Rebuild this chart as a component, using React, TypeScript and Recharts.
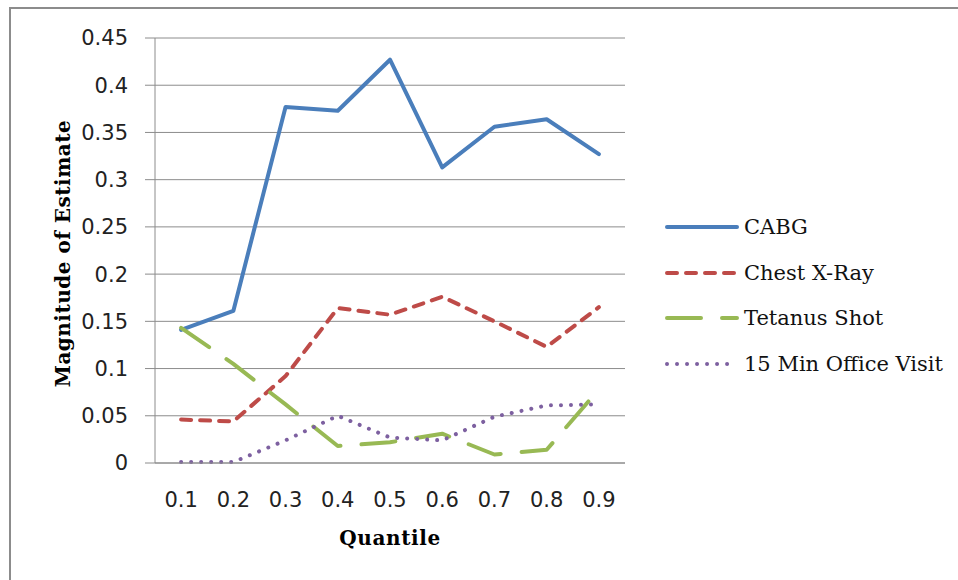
import React from "react";
import { LineChart, Line, XAxis, YAxis, CartesianGrid, Label } from "recharts";

const quantiles = [0.1, 0.2, 0.3, 0.4, 0.5, 0.6, 0.7, 0.8, 0.9];
const cabg = [0.141, 0.161, 0.377, 0.373, 0.427, 0.313, 0.356, 0.364, 0.327];
const chestXRay = [0.046, 0.044, 0.092, 0.164, 0.157, 0.176, 0.15, 0.123, 0.165];
const tetanusShot = [0.143, 0.105, 0.062, 0.018, 0.022, 0.031, 0.009, 0.014, 0.078];
const officeVisit = [0.001, 0.001, 0.024, 0.05, 0.027, 0.024, 0.049, 0.061, 0.062];

const yTicks = [0, 0.05, 0.1, 0.15, 0.2, 0.25, 0.3, 0.35, 0.4, 0.45];
// tick marks sit between the categories, like the original
const bandEdges = [0.05, 0.15, 0.25, 0.35, 0.45, 0.55, 0.65, 0.75, 0.85, 0.95];

const series = [
  { key: "cabg", name: "CABG", color: "#4a7ebb", dash: undefined },
  { key: "chest", name: "Chest X-Ray", color: "#be4b48", dash: "10 9" },
  { key: "tetanus", name: "Tetanus Shot", color: "#98b954", dash: "34 21" },
  { key: "visit", name: "15 Min Office Visit", color: "#7d60a0", dash: "0.01 10" },
];

const data = quantiles.map((q, i) => ({
  q,
  cabg: cabg[i],
  chest: chestXRay[i],
  tetanus: tetanusShot[i],
  visit: officeVisit[i],
}));

const gray = "#8c8c8c";
const tickFont = { fontFamily: "DejaVu Sans", fontSize: 21, fill: "#222" };
const titleFont = { fontFamily: "DejaVu Serif", fontSize: 20, fontWeight: 700, fill: "#000" };

export default function App() {
  return (
    <div style={{ position: "absolute", left: 0, top: 0, width: 958, height: 580, background: "#fff" }}>
      <div
        style={{
          position: "absolute",
          left: 9,
          top: 7,
          width: 960,
          height: 600,
          borderLeft: `2px solid ${gray}`,
          borderTop: `2px solid ${gray}`,
        }}
      />
      <LineChart
        width={958}
        height={580}
        data={data}
        margin={{ top: 38, right: 333, left: 0, bottom: 0 }}
        style={{ position: "absolute", left: 0, top: 0 }}
      >
        <CartesianGrid vertical={false} stroke={gray} />
        <XAxis
          xAxisId={0}
          dataKey="q"
          type="number"
          domain={[0.05, 0.95]}
          ticks={bandEdges}
          tick={false}
          tickSize={10}
          height={1}
          stroke={gray}
          axisLine={{ stroke: gray }}
          tickLine={{ stroke: gray }}
        />
        <XAxis
          xAxisId="labels"
          dataKey="q"
          type="number"
          domain={[0.05, 0.95]}
          ticks={quantiles}
          axisLine={false}
          tickLine={false}
          tickSize={0}
          tickMargin={28}
          height={116}
          tick={tickFont}
          interval={0}
        >
          <Label
            content={({ viewBox }: any) => {
              const vb = viewBox || { x: 155, y: 464, width: 470, height: 116 };
              return (
                <text
                  x={vb.x + vb.width / 2}
                  y={538}
                  textAnchor="middle"
                  dominantBaseline="central"
                  style={{ ...titleFont, letterSpacing: 0.6 }}
                >
                  Quantile
                </text>
              );
            }}
          />
        </XAxis>
        <YAxis
          width={155}
          domain={[0, 0.45]}
          ticks={yTicks}
          tickSize={10}
          tickMargin={17}
          interval={0}
          tick={tickFont}
          axisLine={{ stroke: gray }}
          tickLine={{ stroke: gray }}
        >
          <Label
            content={({ viewBox }: any) => {
              const vb = viewBox || { x: 0, y: 38, width: 155, height: 425 };
              const cx = 63;
              const cy = vb.y + vb.height / 2 + 3;
              return (
                <text
                  x={cx}
                  y={cy}
                  transform={`rotate(-90 ${cx} ${cy})`}
                  textAnchor="middle"
                  dominantBaseline="central"
                  style={{ ...titleFont, letterSpacing: 0.5 }}
                >
                  Magnitude of Estimate
                </text>
              );
            }}
          />
        </YAxis>
        {series.map((s) => (
          <Line
            key={s.key}
            xAxisId="labels"
            type="linear"
            dataKey={s.key}
            name={s.name}
            stroke={s.color}
            strokeWidth={4}
            strokeDasharray={s.dash}
            strokeLinecap="round"
            strokeLinejoin="round"
            dot={false}
            activeDot={false}
            isAnimationActive={false}
          />
        ))}
      </LineChart>
      {series.map((s, i) => (
        <div
          key={s.key}
          style={{
            position: "absolute",
            left: 665,
            top: 227 + i * 45.7 - 14,
            height: 28,
            display: "flex",
            alignItems: "center",
            whiteSpace: "nowrap",
          }}
        >
          <svg width={74} height={12} style={{ display: "block" }}>
            <line
              x1={2}
              y1={6}
              x2={72}
              y2={6}
              stroke={s.color}
              strokeWidth={4}
              strokeDasharray={s.dash}
              strokeLinecap="round"
            />
          </svg>
          <span
            style={{
              marginLeft: 5,
              fontFamily: "DejaVu Serif",
              fontSize: 21,
              color: "#111",
              lineHeight: "28px",
            }}
          >
            {s.name}
          </span>
        </div>
      ))}
    </div>
  );
}
